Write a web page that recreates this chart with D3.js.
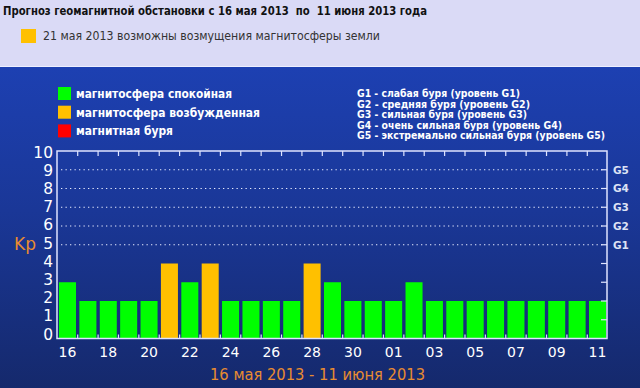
<!DOCTYPE html>
<html>
<head>
<meta charset="utf-8">
<script src="https://cdn.jsdelivr.net/npm/d3@7"></script>
<style>
  html, body { margin: 0; padding: 0; background: #dadaf6; }
  svg { display: block; }
</style>
</head>
<body>
<svg id="chart" width="640" height="388"></svg>
<script>
// дни прогноза (16 мая – 11 июня 2013)
const days = ["16","17","18","19","20","21","22","23","24","25","26","27","28","29","30","31",
              "01","02","03","04","05","06","07","08","09","10","11"];
const kp = [3,2,2,2,2,4,3,4,2,2,2,2,4,3,2,2,2,3,2,2,2,2,2,2,2,2,2];
const yTicks = [0,1,2,3,4,5,6,7,8,9,10];
const gLevels = ["G1","G2","G3","G4","G5"];
const gKp = [5,6,7,8,9];
const legendItems = ["магнитосфера спокойная", "магнитосфера возбужденная", "магнитная буря"];
const legendColors = ["#00ff00", "#ffc000", "#ff0000"];
const gDescr = [
  "G1 - слабая буря (уровень G1)",
  "G2 - средняя буря (уровень G2)",
  "G3 - сильная буря (уровень G3)",
  "G4 - очень сильная буря (уровень G4)",
  "G5 - экстремально сильная буря (уровень G5)"
];

const svg = d3.select("#chart");
const W = 640, H = 388;
const frame = { left: 57, right: 607, top: 151, bottom: 338.5 };

// фон
const defs = svg.append("defs");
const grad = defs.append("linearGradient").attr("id", "bg").attr("x1", 0).attr("y1", 0).attr("x2", 0).attr("y2", 1);
grad.append("stop").attr("offset", "0%").attr("stop-color", "#1d40b2");
grad.append("stop").attr("offset", "45%").attr("stop-color", "#1a3797");
grad.append("stop").attr("offset", "100%").attr("stop-color", "#15296c");

svg.append("rect").attr("width", W).attr("height", 66).attr("fill", "#dadaf6");
svg.append("rect").attr("y", 66).attr("width", W).attr("height", H - 66).attr("fill", "url(#bg)");
svg.append("line").attr("x1", 0).attr("x2", W).attr("y1", 66.5).attr("y2", 66.5)
  .attr("stroke", "#eef0ff").attr("stroke-width", 1);

// заголовок
svg.append("text").attr("x", 3).attr("y", 15)
  .attr("font-family", "DejaVu Sans").attr("font-weight", "bold").attr("font-size", 11.5)
  .attr("fill", "#111").attr("textLength", 424).attr("lengthAdjust", "spacingAndGlyphs")
  .style("white-space", "pre")
  .text("Прогноз геомагнитной обстановки с 16 мая 2013  по  11 июня 2013 года");
svg.append("rect").attr("x", 21).attr("y", 29).attr("width", 15).attr("height", 14).attr("fill", "#ffc000");
svg.append("text").attr("x", 43).attr("y", 40)
  .attr("font-family", "DejaVu Sans").attr("font-size", 11.5)
  .attr("fill", "#333").attr("textLength", 337).attr("lengthAdjust", "spacingAndGlyphs")
  .text("21 мая 2013 возможны возмущения магнитосферы земли");

// легенда
const legW = [156, 184, 97];
const leg = svg.append("g");
legendItems.forEach((t, i) => {
  const y = 87 + i * 18.7;
  leg.append("rect").attr("x", 58).attr("y", y).attr("width", 13).attr("height", 13).attr("fill", legendColors[i]);
  leg.append("text").attr("x", 76).attr("y", y + 11)
    .attr("font-family", "DejaVu Sans").attr("font-weight", "bold").attr("font-size", 13)
    .attr("fill", "#fff").attr("textLength", legW[i]).attr("lengthAdjust", "spacingAndGlyphs").text(t);
});
const gW = [163, 173, 170, 205, 248];
gDescr.forEach((t, i) => {
  svg.append("text").attr("x", 357).attr("y", 97 + i * 10.6)
    .attr("font-family", "DejaVu Sans").attr("font-weight", "bold").attr("font-size", 10.5)
    .attr("fill", "#fff").attr("textLength", gW[i]).attr("lengthAdjust", "spacingAndGlyphs").text(t);
});

// шкалы
const x = d3.scaleBand().domain(days).range([59, 606]).paddingInner(0.165).paddingOuter(0);
const y = d3.scaleLinear().domain([0, 10]).range([frame.bottom, frame.top]);
const yLab = d3.scaleLinear().domain([0, 10]).range([334, 152]);
const color = v => v >= 5 ? legendColors[2] : v >= 4 ? legendColors[1] : legendColors[0];

// пунктирные линии уровней G
svg.append("g").selectAll("line").data(gKp).join("line")
  .attr("x1", frame.left + 4).attr("x2", frame.right - 2)
  .attr("y1", d => y(d)).attr("y2", d => y(d))
  .attr("stroke", "#e8ecff").attr("stroke-width", 1.2).attr("stroke-dasharray", "1.3,3.2");

// столбцы
svg.append("g").selectAll("rect").data(days).join("rect")
  .attr("x", d => x(d)).attr("width", x.bandwidth())
  .attr("y", (d, i) => y(kp[i])).attr("height", (d, i) => y(0) - y(kp[i]))
  .attr("fill", (d, i) => color(kp[i]));

// рамка
svg.append("rect").attr("x", frame.left).attr("y", frame.top)
  .attr("width", frame.right - frame.left).attr("height", frame.bottom - frame.top)
  .attr("fill", "none").attr("stroke", "#dfe4ff").attr("stroke-width", 1.5);

// засечки между столбцами
const gap = x.step() * x.paddingInner() / 2;
const bounds = days.slice(1).map(d => x(d) - gap);
svg.append("g").selectAll("line").data(bounds).join("line")
  .attr("x1", d => d).attr("x2", d => d).attr("y1", frame.top).attr("y2", frame.top + 5)
  .attr("stroke", "#dfe4ff").attr("stroke-width", 1.2);
svg.append("g").selectAll("line").data(bounds).join("line")
  .attr("x1", d => d).attr("x2", d => d).attr("y1", frame.bottom).attr("y2", frame.bottom - 4)
  .attr("stroke", "#dfe4ff").attr("stroke-width", 1.2);
svg.append("g").selectAll("line").data(yTicks.slice(1, 10)).join("line")
  .attr("x1", frame.right).attr("x2", frame.right - 6).attr("y1", d => y(d)).attr("y2", d => y(d))
  .attr("stroke", "#dfe4ff").attr("stroke-width", 1.2);

// подписи оси Y
svg.append("g").selectAll("text").data(yTicks).join("text")
  .attr("x", 53).attr("y", d => yLab(d)).attr("dy", "0.36em").attr("text-anchor", "end")
  .attr("font-family", "DejaVu Sans").attr("font-size", 15.5).attr("fill", "#fff")
  .text(d => d);

svg.append("text").attr("x", 14).attr("y", 250)
  .attr("font-family", "DejaVu Sans").attr("font-size", 17).attr("fill", "#e88c30").text("Kp");

// подписи G справа
svg.append("g").selectAll("text").data(gLevels).join("text")
  .attr("x", 613).attr("y", (d, i) => y(gKp[i])).attr("dy", "0.36em")
  .attr("font-family", "DejaVu Sans").attr("font-weight", "bold").attr("font-size", 10.5)
  .attr("fill", "#dde2f5").text(d => d);

// подписи оси X (через день)
svg.append("g").selectAll("text").data(days.filter((d, i) => i % 2 === 0)).join("text")
  .attr("x", d => x(d) + x.bandwidth() / 2).attr("y", 357).attr("text-anchor", "middle")
  .attr("font-family", "DejaVu Sans").attr("font-size", 14).attr("fill", "#fff")
  .text(d => d);

svg.append("text").attr("x", 317.5).attr("y", 380).attr("text-anchor", "middle")
  .attr("font-family", "DejaVu Sans").attr("font-size", 16.5).attr("fill", "#e88c30")
  .attr("textLength", 215).attr("lengthAdjust", "spacingAndGlyphs")
  .text("16 мая 2013 - 11 июня 2013");
</script>
</body>
</html>
